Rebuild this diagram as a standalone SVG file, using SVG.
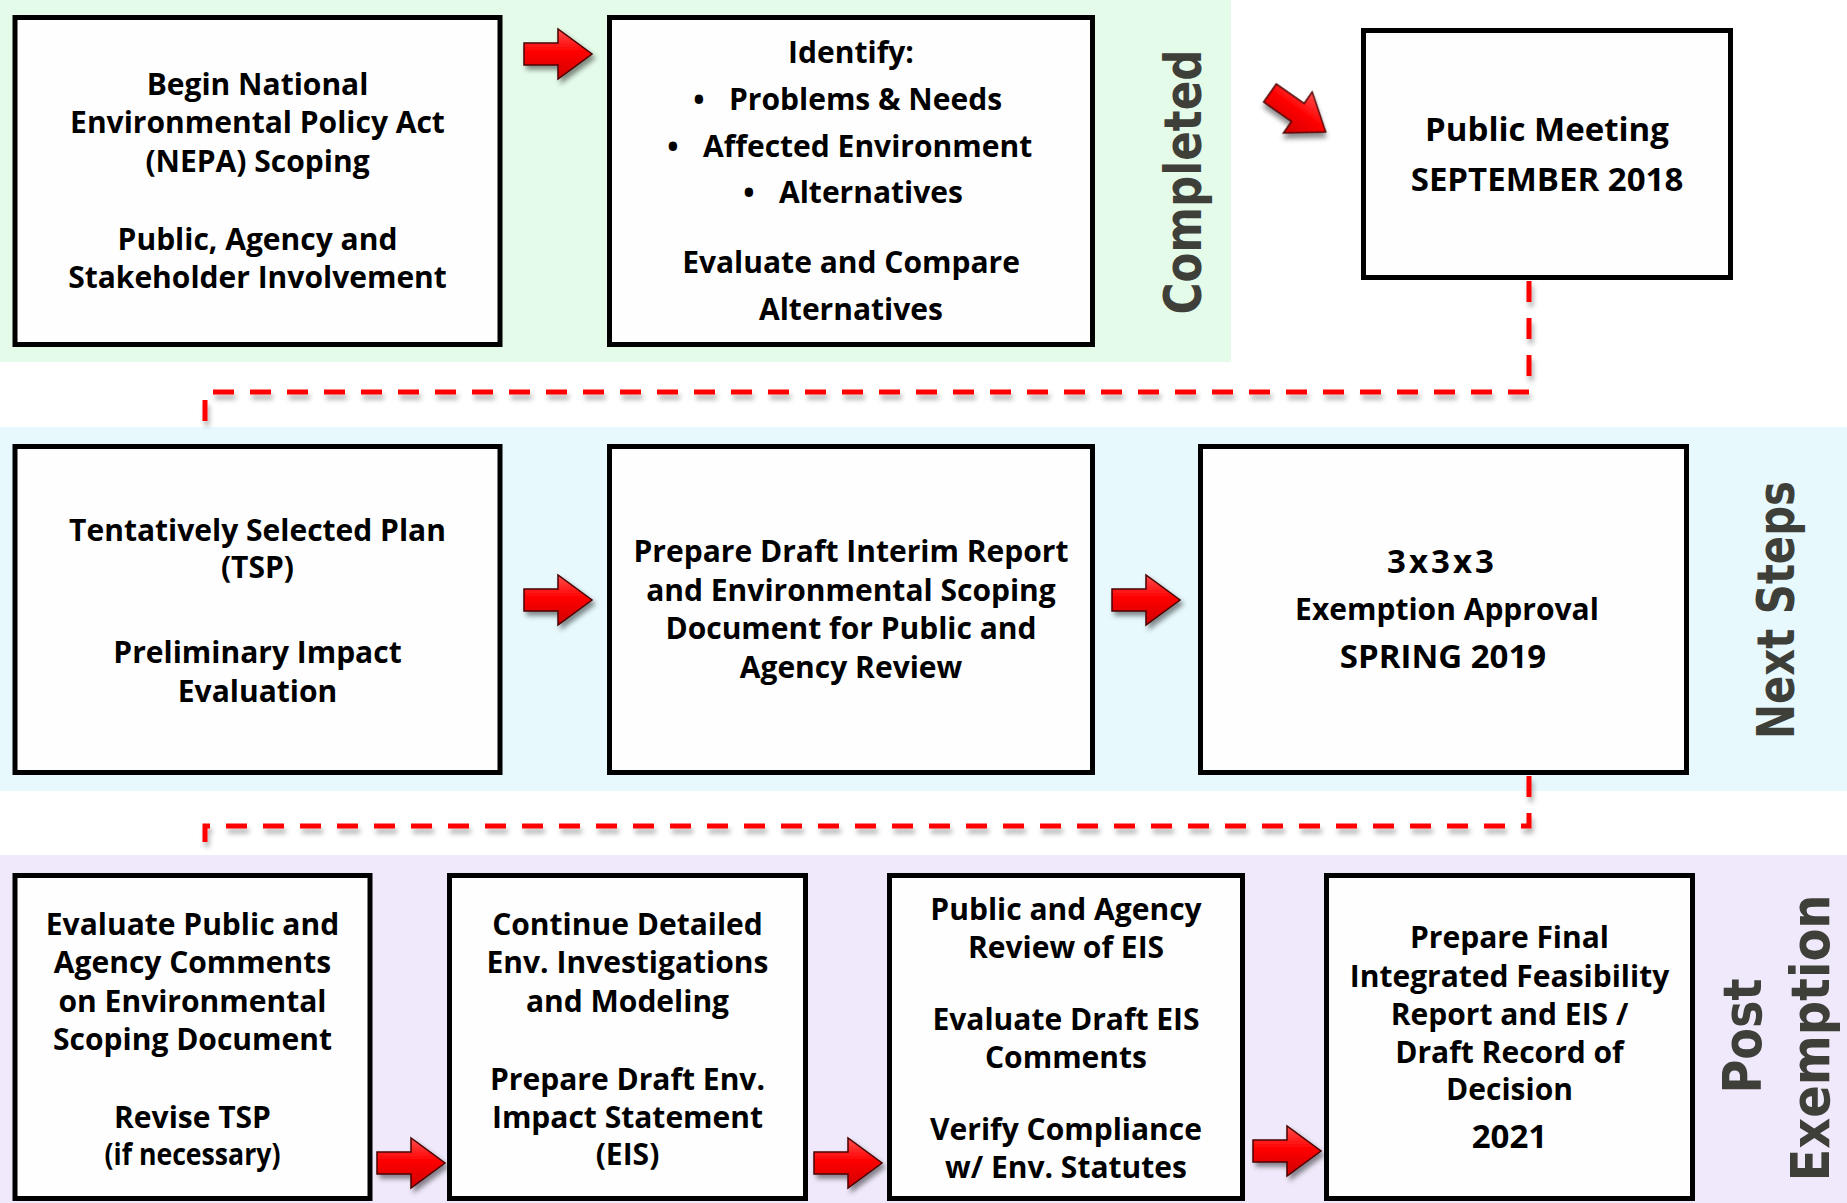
<svg xmlns="http://www.w3.org/2000/svg" width="1847" height="1203" viewBox="0 0 1847 1203">
  <defs>
    <style>
      .band-done { fill: #e4fbe9; }
      .band-next { fill: #e7f9fd; }
      .band-post { fill: #f0e9fb; }
      .box { fill: #fefefe; stroke: #000; stroke-width: 5; }
      .t { font-family: "Open Sans", "Noto Sans", "DejaVu Sans", sans-serif; font-weight: 700; font-size: 30px; text-anchor: middle; fill: #000; }
      .ts { text-anchor: start; }
      .big { font-size: 33px; }
      .lbl { font-family: "DejaVu Sans", "Open Sans", sans-serif; font-weight: 700; font-size: 52px; text-anchor: middle; fill: #3f3f3a; }
      .lbl2 { font-size: 54px; }
      .dash { fill: none; stroke: #ff0000; stroke-width: 5; stroke-dasharray: 21 16; filter: url(#lineShadow); }
      .arrow { fill: url(#arrowFill); stroke: #4a0000; stroke-width: 1.5; stroke-linejoin: miter; filter: url(#arrowShadow); }
    </style>
    <linearGradient id="arrowFill" x1="0" y1="0" x2="0" y2="1">
      <stop offset="0" stop-color="#ff5050"/>
      <stop offset="0.45" stop-color="#ff0000"/>
      <stop offset="1" stop-color="#d00000"/>
    </linearGradient>
    <filter id="arrowShadow" x="-30%" y="-30%" width="160%" height="180%">
      <feDropShadow dx="3" dy="4" stdDeviation="2.5" flood-color="#000" flood-opacity="0.45"/>
    </filter>
    <filter id="lineShadow" x="-5%" y="-20%" width="110%" height="140%">
      <feDropShadow dx="2" dy="5" stdDeviation="2.5" flood-color="#000" flood-opacity="0.3"/>
    </filter>
    <!-- block arrow, tail centre at origin, pointing right -->
    <polygon id="blockArrow" points="0,-11 34,-11 34,-25 68,0 34,25 34,11 0,11"/>
  </defs>

  <!-- phase bands -->
  <rect class="band-done" x="0" y="0" width="1231" height="362"/>
  <rect class="band-next" x="0" y="427" width="1847" height="364"/>
  <rect class="band-post" x="0" y="855" width="1847" height="348"/>

  <!-- phase labels -->
  <text class="lbl" transform="translate(1201,182) rotate(-90)" textLength="265" lengthAdjust="spacingAndGlyphs">Completed</text>
  <text class="lbl" transform="translate(1794,610) rotate(-90)" textLength="258" lengthAdjust="spacingAndGlyphs">Next Steps</text>
  <text class="lbl lbl2" transform="translate(1761,1036) rotate(-90)" textLength="115" lengthAdjust="spacingAndGlyphs">Post</text>
  <text class="lbl lbl2" transform="translate(1829,1038) rotate(-90)" textLength="287" lengthAdjust="spacingAndGlyphs">Exemption</text>

  <!-- connectors -->
  <g id="connectors">
    <path class="dash" d="M1529,281 V392 H205 V428"/>
    <path class="dash" d="M1529,776 V826 H205 V856"/>
    <use href="#blockArrow" class="arrow" transform="translate(524,54)"/>
    <use href="#blockArrow" class="arrow" transform="translate(1270,93) rotate(35)"/>
    <use href="#blockArrow" class="arrow" transform="translate(524,600)"/>
    <use href="#blockArrow" class="arrow" transform="translate(1112,600)"/>
    <use href="#blockArrow" class="arrow" transform="translate(377,1163)"/>
    <use href="#blockArrow" class="arrow" transform="translate(814,1163)"/>
    <use href="#blockArrow" class="arrow" transform="translate(1253,1151)"/>
  </g>

  <!-- row 1 -->
  <g id="nepa-scoping">
    <rect class="box" x="15" y="17.5" width="485" height="327"/>
    <text class="t" x="257.5" y="95">Begin National</text>
    <text class="t" x="257.5" y="133">Environmental Policy Act</text>
    <text class="t" x="257.5" y="172">(NEPA) Scoping</text>
    <text class="t" x="257.5" y="250">Public, Agency and</text>
    <text class="t" x="257.5" y="288">Stakeholder Involvement</text>
  </g>
  <g id="identify">
    <rect class="box" x="609.5" y="17.5" width="483" height="327"/>
    <text class="t" x="851" y="63">Identify:</text>
    <text class="t" x="699" y="110">•</text>
    <text class="t ts" x="729" y="110">Problems &amp; Needs</text>
    <text class="t" x="673" y="157">•</text>
    <text class="t ts" x="703" y="157">Affected Environment</text>
    <text class="t" x="749" y="203">•</text>
    <text class="t ts" x="779" y="203">Alternatives</text>
    <text class="t" x="851" y="273">Evaluate and Compare</text>
    <text class="t" x="851" y="320">Alternatives</text>
  </g>
  <g id="public-meeting">
    <rect class="box" x="1363.5" y="30.5" width="367" height="247"/>
    <text class="t big" x="1547" y="141">Public Meeting</text>
    <text class="t big" x="1547" y="191">SEPTEMBER 2018</text>
  </g>

  <!-- row 2 -->
  <g id="tsp">
    <rect class="box" x="15" y="446.5" width="485" height="326"/>
    <text class="t" x="257.5" y="541">Tentatively Selected Plan</text>
    <text class="t" x="257.5" y="578">(TSP)</text>
    <text class="t" x="257.5" y="663">Preliminary Impact</text>
    <text class="t" x="257.5" y="702">Evaluation</text>
  </g>
  <g id="draft-interim-report">
    <rect class="box" x="609.5" y="446.5" width="483" height="326"/>
    <text class="t" x="851" y="562">Prepare Draft Interim Report</text>
    <text class="t" x="851" y="601">and Environmental Scoping</text>
    <text class="t" x="851" y="639">Document for Public and</text>
    <text class="t" x="851" y="678">Agency Review</text>
  </g>
  <g id="exemption-approval">
    <rect class="box" x="1200.5" y="446.5" width="486" height="326"/>
    <text class="t big" x="1442" y="573" letter-spacing="3">3x3x3</text>
    <text class="t" x="1447" y="620">Exemption Approval</text>
    <text class="t big" x="1443" y="668">SPRING 2019</text>
  </g>

  <!-- row 3 -->
  <g id="evaluate-comments">
    <rect class="box" x="15" y="875.5" width="355" height="323"/>
    <text class="t" x="192.5" y="935">Evaluate Public and</text>
    <text class="t" x="192.5" y="973">Agency Comments</text>
    <text class="t" x="192.5" y="1012">on Environmental</text>
    <text class="t" x="192.5" y="1050">Scoping Document</text>
    <text class="t" x="192.5" y="1128">Revise TSP</text>
    <text class="t" x="192.5" y="1165" textLength="176" lengthAdjust="spacingAndGlyphs">(if necessary)</text>
  </g>
  <g id="env-investigations">
    <rect class="box" x="449.5" y="875.5" width="356" height="323"/>
    <text class="t" x="627.5" y="935">Continue Detailed</text>
    <text class="t" x="627.5" y="973">Env. Investigations</text>
    <text class="t" x="627.5" y="1012">and Modeling</text>
    <text class="t" x="627.5" y="1090">Prepare Draft Env.</text>
    <text class="t" x="627.5" y="1128">Impact Statement</text>
    <text class="t" x="627.5" y="1165">(EIS)</text>
  </g>
  <g id="eis-review">
    <rect class="box" x="889.5" y="875.5" width="353" height="323"/>
    <text class="t" x="1066" y="920">Public and Agency</text>
    <text class="t" x="1066" y="958">Review of EIS</text>
    <text class="t" x="1066" y="1030">Evaluate Draft EIS</text>
    <text class="t" x="1066" y="1068">Comments</text>
    <text class="t" x="1066" y="1140">Verify Compliance</text>
    <text class="t" x="1066" y="1178">w/ Env. Statutes</text>
  </g>
  <g id="final-report">
    <rect class="box" x="1326.5" y="875.5" width="366" height="323"/>
    <text class="t" x="1509.5" y="948">Prepare Final</text>
    <text class="t" x="1509.5" y="987">Integrated Feasibility</text>
    <text class="t" x="1509.5" y="1025">Report and EIS /</text>
    <text class="t" x="1509.5" y="1063">Draft Record of</text>
    <text class="t" x="1509.5" y="1100">Decision</text>
    <text class="t big" x="1509.5" y="1148">2021</text>
  </g>
</svg>
